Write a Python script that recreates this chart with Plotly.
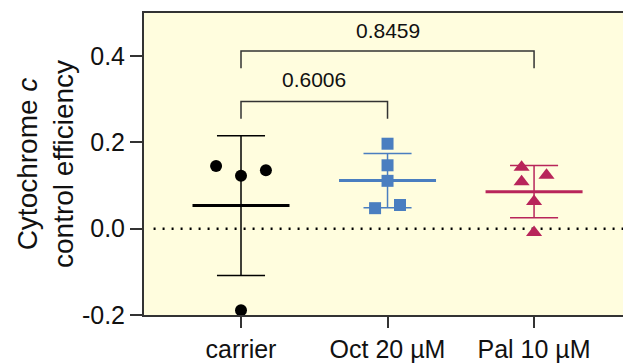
import numpy as np
import plotly.graph_objects as go

# Groups and individual measurements
categories = ["carrier", "Oct 20 µM", "Pal 10 µM"]
carrier_vals = [0.1455, 0.1225, 0.1356, -0.189]
oct_vals = [0.197, 0.147, 0.111, 0.0476, 0.055]
pal_vals = [0.1425, 0.124, 0.1087, 0.0628, -0.0085]
series = [carrier_vals, oct_vals, pal_vals]

# Pairwise comparison p-values (group index pairs)
comparisons = [(0, 1, "0.6006"), (0, 2, "0.8459")]
y_ticks = [-0.2, 0.0, 0.2, 0.4]

# Horizontal scatter offsets used to keep points from overlapping
offsets = [
    [-0.17, 0.0, 0.17, 0.0],
    [0.0, 0.0, 0.0, -0.085, 0.085],
    [-0.085, 0.085, -0.085, 0.0, 0.0],
]
colors = ["#000000", "#4A7EC0", "#B8255A"]
symbols = ["circle", "square", "triangle-up"]
bracket_levels = [(0.295, 0.255, 0.345), (0.412, 0.372, 0.46)]

FONT = "Arial, Liberation Sans, sans-serif"

fig = go.Figure()
shapes = []

for i, vals in enumerate(series):
    vals = np.asarray(vals)
    xs = [i + o for o in offsets[i]]
    fig.add_trace(go.Scatter(
        x=xs, y=vals, mode="markers",
        marker=dict(symbol=symbols[i], size=12 if i != 2 else 14,
                    color=colors[i], line=dict(width=0)),
        cliponaxis=False, showlegend=False,
    ))
    mean = vals.mean()
    sd = vals.std(ddof=1)
    c = colors[i]
    # SD whisker
    shapes.append(dict(type="line", x0=i, x1=i, y0=mean - sd, y1=mean + sd,
                       line=dict(color=c, width=1.5), layer="below"))
    for yv in (mean - sd, mean + sd):
        shapes.append(dict(type="line", x0=i - 0.164, x1=i + 0.164, y0=yv, y1=yv,
                           line=dict(color=c, width=1.5), layer="below"))
    # mean bar
    shapes.append(dict(type="line", x0=i - 0.331, x1=i + 0.331, y0=mean, y1=mean,
                       line=dict(color=c, width=3), layer="below"))

# Zero reference line
shapes.append(dict(type="line", xref="paper", x0=0.02, x1=1, y0=0, y1=0,
                   line=dict(color="black", width=2.5, dash="2px,7px"), layer="below"))

annotations = []
for (a, b, p), (top, foot, ty) in zip(comparisons, bracket_levels):
    shapes.append(dict(type="path",
                       path=f"M {a},{foot} L {a},{top} L {b},{top} L {b},{foot}",
                       line=dict(color="#333333", width=1.5)))
    annotations.append(dict(x=(a + b) / 2, y=ty, text=p, showarrow=False,
                            font=dict(family=FONT, size=21, color="#111111")))

fig.update_layout(
    width=623, height=363,
    margin=dict(l=144, r=0, t=13, b=46),
    paper_bgcolor="white",
    plot_bgcolor="#FFFDDE",
    shapes=shapes,
    annotations=annotations,
    font=dict(family=FONT, color="#111111"),
)
fig.update_xaxes(
    range=[-0.662, 2.607],
    tickvals=[0, 1, 2], ticktext=categories,
    showline=True, linecolor="#333333", linewidth=2, mirror=True,
    ticks="outside", ticklen=11, tickwidth=1.5, tickcolor="#333333",
    tickfont=dict(family=FONT, size=25, color="#111111"),
    showgrid=False, zeroline=False,
)
fig.update_yaxes(
    range=[-0.2, 0.5],
    tickvals=y_ticks, ticktext=[f"{v:.1f}" for v in y_ticks],
    showline=True, linecolor="#333333", linewidth=2,
    ticks="outside", ticklen=12, tickwidth=1.5, tickcolor="#333333",
    tickfont=dict(family=FONT, size=25, color="#111111"),
    showgrid=False, zeroline=False,
    title=dict(text="Cytochrome <i>c</i><br>control efficiency",
               font=dict(family=FONT, size=28, color="#111111"), standoff=0),
)

fig.write_html("out.html")
